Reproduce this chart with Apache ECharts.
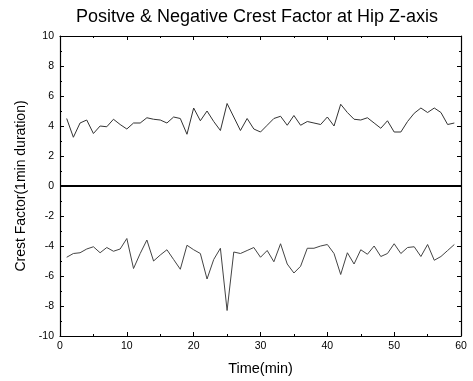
<!DOCTYPE html>
<html>
<head>
<meta charset="utf-8">
<script src="https://cdn.jsdelivr.net/npm/echarts@6/dist/echarts.min.js"></script>
<style>
	html, body { margin: 0; padding: 0; background: #fff; }
	#chart { width: 473px; height: 381px; }
</style>
</head>
<body>
<div id="chart"></div>
<script>
// minutes 1..59
let minutes = [];
for (let i = 1; i <= 59; i++) minutes.push(i);

let positiveCF = [
	4.5, 3.25, 4.2, 4.4, 3.5, 4.0, 3.95, 4.45, 4.1, 3.8,
	4.2, 4.2, 4.55, 4.45, 4.4, 4.2, 4.6, 4.5, 3.45, 5.2,
	4.35, 5.0, 4.3, 3.7, 5.5, 4.6, 3.7, 4.5, 3.8, 3.6,
	4.05, 4.5, 4.65, 4.05, 4.7, 4.05, 4.3, 4.2, 4.1, 4.6,
	4.0, 5.45, 4.9, 4.45, 4.4, 4.55, 4.2, 3.85, 4.35, 3.6,
	3.6, 4.3, 4.85, 5.2, 4.9, 5.2, 4.9, 4.1, 4.2,
];

let negativeCF = [
	-4.75, -4.5, -4.45, -4.2, -4.05, -4.45, -4.1, -4.35, -4.2, -3.5,
	-5.5, -4.5, -3.6, -5.0, -4.6, -4.25, -4.9, -5.55, -3.95, -4.25,
	-4.5, -6.2, -4.9, -4.15, -8.3, -4.4, -4.5, -4.3, -4.1, -4.75,
	-4.3, -5.05, -3.85, -5.2, -5.8, -5.35, -4.15, -4.15, -4.0, -3.9,
	-4.5, -5.9, -4.45, -5.2, -4.25, -4.55, -4.0, -4.7, -4.5, -3.85,
	-4.5, -4.1, -4.05, -4.7, -3.9, -4.95, -4.7, -4.3, -3.9,
];

let xTicks = [0, 10, 20, 30, 40, 50, 60];
let yTicks = [-10, -8, -6, -4, -2, 0, 2, 4, 6, 8, 10];

function pairs(xs, ys) {
	return xs.map((x, i) => [x, ys[i]]);
}

let font = "Liberation Sans, Arial, sans-serif";
let tickCommon = {
	axisLine: { show: true, onZero: false, lineStyle: { color: "#000", width: 1.2 } },
	axisTick: { show: true, inside: true, length: 4, lineStyle: { color: "#000" } },
	minorTick: { show: true, splitNumber: 2, length: 2, lineStyle: { color: "#000" } },
	splitLine: { show: false },
};

let chart = echarts.init(document.getElementById("chart"));
chart.setOption({
	animation: false,
	backgroundColor: "#fff",
	title: {
		text: "Positve & Negative Crest Factor at Hip Z-axis",
		left: 71,
		top: 3,
		textStyle: { fontFamily: font, fontSize: 18, fontWeight: "normal", color: "#000" },
	},
	grid: { left: 60, right: 12, top: 36, bottom: 45 },
	xAxis: [
		Object.assign({
			type: "value",
			min: xTicks[0],
			max: xTicks[xTicks.length - 1],
			interval: 10,
			name: "Time(min)",
			nameLocation: "middle",
			nameGap: 25,
			nameTextStyle: { fontFamily: font, fontSize: 14.5, color: "#000" },
			axisLabel: { fontFamily: font, fontSize: 10.5, color: "#000", margin: 5 },
		}, tickCommon),
		Object.assign({
			type: "value",
			position: "top",
			min: 0,
			max: 60,
			interval: 10,
			axisLabel: { show: false },
		}, tickCommon),
	],
	yAxis: [
		Object.assign({
			type: "value",
			min: yTicks[0],
			max: yTicks[yTicks.length - 1],
			interval: 2,
			name: "Crest Factor(1min duration)",
			nameLocation: "middle",
			nameGap: 30,
			nameTextStyle: { fontFamily: font, fontSize: 14, color: "#000" },
			axisLabel: { fontFamily: font, fontSize: 10.5, color: "#000", margin: 6 },
		}, tickCommon),
		Object.assign({
			type: "value",
			position: "right",
			min: -10,
			max: 10,
			interval: 2,
			axisLabel: { show: false },
		}, tickCommon),
	],
	series: [
		{
			type: "line",
			data: pairs(minutes, positiveCF),
			showSymbol: false,
			lineStyle: { color: "#333", width: 1 },
			markLine: {
				silent: true,
				symbol: "none",
				label: { show: false },
				lineStyle: { color: "#000", width: 1.8, type: "solid" },
				data: [{ yAxis: 0 }],
			},
		},
		{
			type: "line",
			data: pairs(minutes, negativeCF),
			showSymbol: false,
			lineStyle: { color: "#444", width: 1 },
		},
	],
});
</script>
</body>
</html>
